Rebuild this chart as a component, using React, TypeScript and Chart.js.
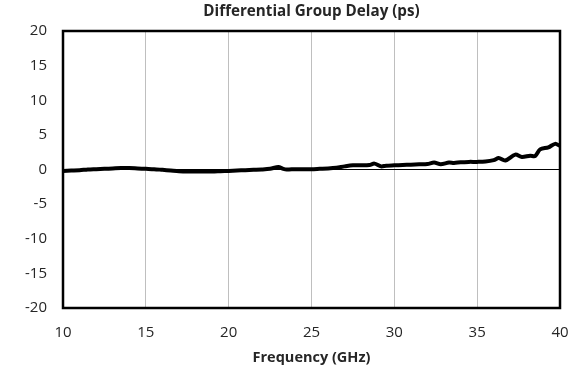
import React, { useEffect, useRef } from "react";
import { Chart, registerables } from "chart.js";

Chart.register(...registerables);

const frequencyGHz = [
  10, 10.5, 11, 11.5, 12, 12.5, 13, 13.5, 14, 14.5, 15, 15.5, 16, 16.5, 17, 17.5, 18, 18.5, 19, 19.5,
  20, 20.5, 21, 21.5, 22, 22.5, 23, 23.3, 23.5, 24, 24.5, 25, 25.5, 26, 26.5, 27, 27.5, 28, 28.5, 28.8,
  29.2, 29.5, 30, 30.5, 31, 31.5, 32, 32.4, 32.8, 33.3, 33.6, 34, 34.5, 35, 35.5, 36, 36.3, 36.7, 37.3,
  37.7, 38.2, 38.5, 38.8, 39.3, 39.7, 40,
];
const dgdPs = [
  -0.2, -0.15, -0.1, 0.0, 0.05, 0.1, 0.15, 0.2, 0.2, 0.15, 0.1, 0.05, -0.05, -0.15, -0.25, -0.3, -0.3, -0.3, -0.3, -0.25,
  -0.2, -0.15, -0.1, -0.05, 0.0, 0.1, 0.35, 0.1, 0.0, 0.05, 0.05, 0.05, 0.1, 0.15, 0.25, 0.45, 0.6, 0.6, 0.65, 0.85,
  0.45, 0.55, 0.6, 0.65, 0.7, 0.75, 0.8, 1.0, 0.75, 1.0, 0.95, 1.05, 1.1, 1.1, 1.15, 1.35, 1.65, 1.3, 2.15,
  1.8, 2.0, 1.95, 2.9, 3.2, 3.7, 3.4,
];
const xTicks = [10, 15, 20, 25, 30, 35, 40];
const yTicks = [-20, -15, -10, -5, 0, 5, 10, 15, 20];
const chartTitle = "Differential Group Delay (ps)";
const xTitle = "Frequency (GHz)";

const FONT = "'Open Sans', 'DejaVu Sans', sans-serif";
const TEXT = "#262626";

const decorPlugin = {
  id: "plotDecor",
  afterDatasetsDraw(chart: any) {
    const { ctx, chartArea } = chart;
    ctx.save();
    ctx.strokeStyle = "#000";
    ctx.lineWidth = 2.5;
    ctx.strokeRect(chartArea.left, chartArea.top, chartArea.right - chartArea.left, chartArea.bottom - chartArea.top);
    ctx.fillStyle = TEXT;
    ctx.font = `bold 15.2px ${FONT}`;
    ctx.textAlign = "center";
    ctx.textBaseline = "middle";
    ctx.fillText(chartTitle, (chartArea.left + chartArea.right) / 2, 12);
    ctx.restore();
  },
};

export default function App() {
  const ref = useRef<HTMLCanvasElement | null>(null);
  useEffect(() => {
    if (!ref.current) return;
    const chart = new Chart(ref.current, {
      type: "line",
      data: {
        datasets: [
          {
            data: frequencyGHz.map((f, i) => ({ x: f, y: dgdPs[i] })),
            borderColor: "#000",
            borderWidth: 4,
            pointRadius: 0,
            tension: 0.3,
            fill: false,
          },
        ],
      },
      options: {
        animation: false,
        responsive: false,
        maintainAspectRatio: false,
        layout: { padding: { left: 0, right: 0, top: 31, bottom: 0 } },
        plugins: {
          legend: { display: false },
          tooltip: { enabled: false },
          title: { display: false },
        },
        scales: {
          x: {
            type: "linear",
            min: 10,
            max: 40,
            afterBuildTicks: (s: any) => {
              s.ticks = xTicks.map((v) => ({ value: v }));
            },
            afterFit: (s: any) => {
              s.height = 62;
              s.paddingRight = 11;
              s.paddingLeft = 0;
            },
            grid: { color: "#bfbfbf", lineWidth: 1, drawTicks: false },
            border: { display: false },
            ticks: { color: TEXT, font: { family: FONT, size: 15 }, padding: 16, maxRotation: 0 },
            title: {
              display: true,
              text: xTitle,
              color: TEXT,
              font: { family: FONT, size: 14.5, weight: "bold" },
              padding: { top: 4, bottom: 3 },
            },
          },
          y: {
            type: "linear",
            min: -20,
            max: 20,
            afterBuildTicks: (s: any) => {
              s.ticks = yTicks.map((v) => ({ value: v }));
            },
            afterFit: (s: any) => {
              s.width = 63;
              s.paddingTop = 0;
              s.paddingBottom = 0;
            },
            grid: {
              drawTicks: false,
              color: (c: any) => (c.tick && c.tick.value === 0 ? "#000" : "rgba(0,0,0,0)"),
              lineWidth: 1,
            },
            border: { display: false },
            ticks: { color: TEXT, font: { family: FONT, size: 15 }, padding: 16 },
          },
        },
      },
      plugins: [decorPlugin],
    });
    return () => chart.destroy();
  }, []);
  return (
    <div style={{ position: "fixed", left: 0, top: 0, width: 571, height: 370, background: "#fff" }}>
      <canvas ref={ref} width={571} height={370} style={{ width: 571, height: 370 }} />
    </div>
  );
}
